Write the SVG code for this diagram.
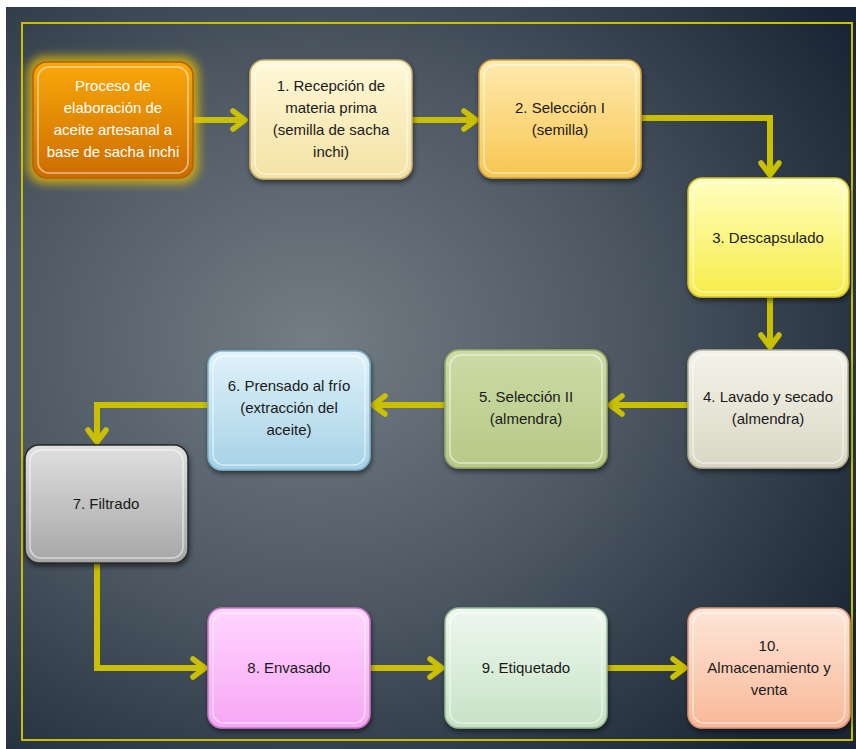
<svg xmlns="http://www.w3.org/2000/svg" width="856" height="749" viewBox="0 0 856 749">
<style>
.t{font-family:"Liberation Sans","DejaVu Sans",sans-serif;font-size:15px;fill:#1a1a1a;text-anchor:middle}
.tw{fill:#ffffff}
.inner{fill:none;stroke:#ffffff;stroke-opacity:0.55;stroke-width:1.5}
.conn{fill:none;stroke:#c8c000;stroke-width:6;stroke-linejoin:miter}
</style>
<defs>
<radialGradient id="bg" cx="0.36" cy="0.45" r="0.75">
<stop offset="0" stop-color="#737d85"/>
<stop offset="0.5" stop-color="#4c5762"/>
<stop offset="1" stop-color="#1a2635"/>
</radialGradient>
<linearGradient id="g0" x1="0" y1="0" x2="0" y2="1"><stop offset="0" stop-color="#f9a80a"/><stop offset="1" stop-color="#cc6c00"/></linearGradient>
<linearGradient id="g1" x1="0" y1="0" x2="0" y2="1"><stop offset="0" stop-color="#fff8d8"/><stop offset="1" stop-color="#f3e2a4"/></linearGradient>
<linearGradient id="g2" x1="0" y1="0" x2="0" y2="1"><stop offset="0" stop-color="#feeab0"/><stop offset="1" stop-color="#f8c650"/></linearGradient>
<linearGradient id="g3" x1="0" y1="0" x2="0" y2="1"><stop offset="0" stop-color="#ffffc0"/><stop offset="1" stop-color="#f6ec48"/></linearGradient>
<linearGradient id="g4" x1="0" y1="0" x2="0" y2="1"><stop offset="0" stop-color="#f4f3ea"/><stop offset="1" stop-color="#d9d7c4"/></linearGradient>
<linearGradient id="g5" x1="0" y1="0" x2="0" y2="1"><stop offset="0" stop-color="#ccdca6"/><stop offset="1" stop-color="#b6c986"/></linearGradient>
<linearGradient id="g6" x1="0" y1="0" x2="0" y2="1"><stop offset="0" stop-color="#e0f2fa"/><stop offset="1" stop-color="#a6d2e6"/></linearGradient>
<linearGradient id="g7" x1="0" y1="0" x2="0" y2="1"><stop offset="0" stop-color="#e0e0e0"/><stop offset="1" stop-color="#a6a6a6"/></linearGradient>
<linearGradient id="g8" x1="0" y1="0" x2="0" y2="1"><stop offset="0" stop-color="#ffd6ff"/><stop offset="1" stop-color="#f7a6f4"/></linearGradient>
<linearGradient id="g9" x1="0" y1="0" x2="0" y2="1"><stop offset="0" stop-color="#eef8ee"/><stop offset="1" stop-color="#c6e2c6"/></linearGradient>
<linearGradient id="g10" x1="0" y1="0" x2="0" y2="1"><stop offset="0" stop-color="#fee6d8"/><stop offset="1" stop-color="#f8b898"/></linearGradient>
<filter id="sh" x="-20%" y="-20%" width="140%" height="150%">
<feDropShadow dx="1" dy="3" stdDeviation="2.5" flood-color="#000000" flood-opacity="0.5"/>
</filter>
<filter id="glow" x="-30%" y="-30%" width="160%" height="160%">
<feGaussianBlur stdDeviation="5"/>
</filter>
<marker id="ah" markerUnits="userSpaceOnUse" markerWidth="24" markerHeight="26" viewBox="0 0 24 26" refX="16" refY="13" orient="auto">
<path d="M5,4 L17,13 L5,22" fill="none" stroke="#c8c000" stroke-width="5.5" stroke-linecap="round" stroke-linejoin="round"/>
</marker>
</defs>

<rect x="0" y="0" width="856" height="749" fill="#ffffff"/>
<rect x="6" y="7" width="850" height="742" fill="url(#bg)"/>
<rect x="22" y="23" width="830" height="717" fill="none" stroke="#c8c000" stroke-width="2"/>

<g id="connectors">
<path class="conn" d="M193,120 H244" marker-end="url(#ah)"/>
<path class="conn" d="M412,120 H475" marker-end="url(#ah)"/>
<path class="conn" d="M641,118 H770 V174" marker-end="url(#ah)"/>
<path class="conn" d="M770,297 V346" marker-end="url(#ah)"/>
<path class="conn" d="M688,405 H611" marker-end="url(#ah)"/>
<path class="conn" d="M445,405 H374" marker-end="url(#ah)"/>
<path class="conn" d="M208,405 H97 V441" marker-end="url(#ah)"/>
<path class="conn" d="M97,563 V668 H204" marker-end="url(#ah)"/>
<path class="conn" d="M370,668 H441" marker-end="url(#ah)"/>
<path class="conn" d="M607,668 H684" marker-end="url(#ah)"/>
</g>

<g id="n0">
<rect x="27" y="56" width="172" height="128" rx="18" fill="#e8c000" opacity="0.75" filter="url(#glow)"/>
<rect x="33" y="62" width="160" height="116" rx="14" fill="url(#g0)" stroke="#b86000" stroke-width="1.5"/>
<rect x="38" y="67" width="150" height="106" rx="11" class="inner" stroke-opacity="0.35"/>
<text class="t tw" x="113" y="91">Proceso de</text>
<text class="t tw" x="113" y="113">elaboración de</text>
<text class="t tw" x="113" y="135">aceite artesanal a</text>
<text class="t tw" x="113" y="157">base de sacha inchi</text>
</g>

<g id="n1">
<rect x="250" y="60" width="162" height="119" rx="14" fill="url(#g1)" stroke="#c8b070" stroke-width="1.5" filter="url(#sh)"/>
<rect x="255" y="65" width="152" height="109" rx="11" class="inner"/>
<text class="t" x="331" y="91">1. Recepción de</text>
<text class="t" x="331" y="113">materia prima</text>
<text class="t" x="331" y="135">(semilla de sacha</text>
<text class="t" x="331" y="157">inchi)</text>
</g>

<g id="n2">
<rect x="479" y="60" width="162" height="118" rx="14" fill="url(#g2)" stroke="#d0a040" stroke-width="1.5" filter="url(#sh)"/>
<rect x="484" y="65" width="152" height="108" rx="11" class="inner"/>
<text class="t" x="560" y="113">2. Selección I</text>
<text class="t" x="560" y="135">(semilla)</text>
</g>

<g id="n3">
<rect x="688" y="178" width="161" height="119" rx="14" fill="url(#g3)" stroke="#d0c030" stroke-width="1.5" filter="url(#sh)"/>
<rect x="693" y="183" width="151" height="109" rx="11" class="inner"/>
<text class="t" x="768" y="243">3. Descapsulado</text>
</g>

<g id="n4">
<rect x="688" y="350" width="160" height="118" rx="14" fill="url(#g4)" stroke="#b0ae98" stroke-width="1.5" filter="url(#sh)"/>
<rect x="693" y="355" width="150" height="108" rx="11" class="inner"/>
<text class="t" x="768" y="402">4. Lavado y secado</text>
<text class="t" x="768" y="424">(almendra)</text>
</g>

<g id="n5">
<rect x="445" y="350" width="162" height="118" rx="14" fill="url(#g5)" stroke="#96a86a" stroke-width="1.5" filter="url(#sh)"/>
<rect x="450" y="355" width="152" height="108" rx="11" class="inner"/>
<text class="t" x="526" y="402">5. Selección II</text>
<text class="t" x="526" y="424">(almendra)</text>
</g>

<g id="n6">
<rect x="208" y="351" width="162" height="119" rx="14" fill="url(#g6)" stroke="#84b4cc" stroke-width="1.5" filter="url(#sh)"/>
<rect x="213" y="356" width="152" height="109" rx="11" class="inner"/>
<text class="t" x="289" y="391">6. Prensado al frío</text>
<text class="t" x="289" y="413">(extracción del</text>
<text class="t" x="289" y="435">aceite)</text>
</g>

<g id="n7">
<rect x="25" y="445" width="163" height="118" rx="14" fill="url(#g7)" stroke="#2a2a2a" stroke-width="1.5" filter="url(#sh)"/>
<rect x="30" y="450" width="153" height="108" rx="11" class="inner"/>
<text class="t" x="106" y="509">7. Filtrado</text>
</g>

<g id="n8">
<rect x="208" y="608" width="162" height="120" rx="14" fill="url(#g8)" stroke="#c878c8" stroke-width="1.5" filter="url(#sh)"/>
<rect x="213" y="613" width="152" height="110" rx="11" class="inner"/>
<text class="t" x="289" y="673">8. Envasado</text>
</g>

<g id="n9">
<rect x="445" y="608" width="162" height="120" rx="14" fill="url(#g9)" stroke="#98b898" stroke-width="1.5" filter="url(#sh)"/>
<rect x="450" y="613" width="152" height="110" rx="11" class="inner"/>
<text class="t" x="526" y="673">9. Etiquetado</text>
</g>

<g id="n10">
<rect x="688" y="608" width="162" height="120" rx="14" fill="url(#g10)" stroke="#d89478" stroke-width="1.5" filter="url(#sh)"/>
<rect x="693" y="613" width="152" height="110" rx="11" class="inner"/>
<text class="t" x="769" y="651">10.</text>
<text class="t" x="769" y="673">Almacenamiento y</text>
<text class="t" x="769" y="695">venta</text>
</g>
</svg>
